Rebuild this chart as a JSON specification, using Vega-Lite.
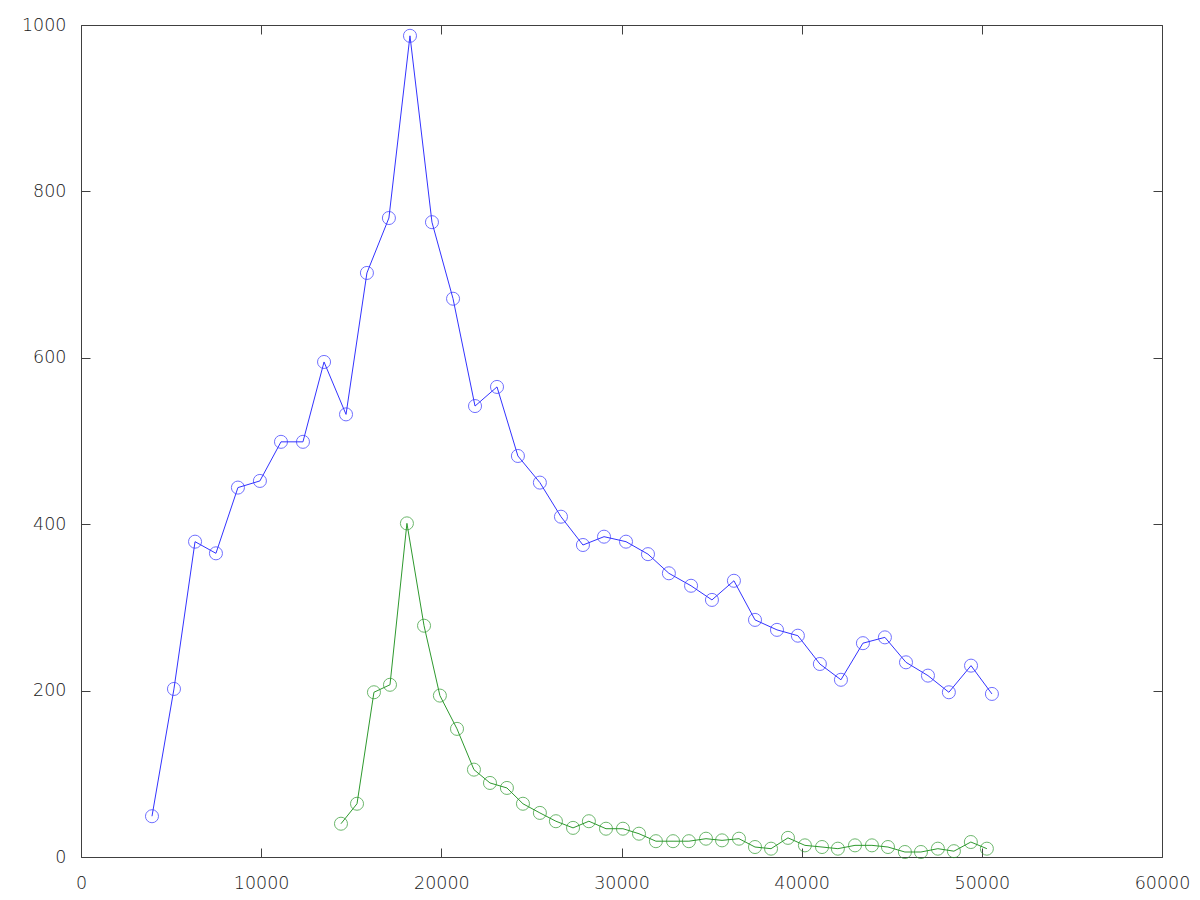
{
  "$schema": "https://vega.github.io/schema/vega-lite/v6.json",
  "width": 1081,
  "height": 832,
  "autosize": {"type": "none"},
  "padding": {"left": 81, "top": 25, "right": 38, "bottom": 43},
  "background": "white",
  "config": {
    "view": {"stroke": null},
    "axis": {
      "grid": false,
      "domainColor": "#404040",
      "domainWidth": 1,
      "tickColor": "#404040",
      "tickWidth": 1,
      "tickSize": -9,
      "labelFont": "DejaVu Sans",
      "labelFontWeight": 200,
      "labelFontSize": 17.5,
      "labelColor": "#1a1a1a",
      "format": "d",
      "title": null
    }
  },
  "datasets": {
    "pts": [
      {"s": "a", "x": 3940, "y": 49},
      {"s": "a", "x": 5160, "y": 202},
      {"s": "a", "x": 6330, "y": 379},
      {"s": "a", "x": 7490, "y": 365},
      {"s": "a", "x": 8710, "y": 444},
      {"s": "a", "x": 9930, "y": 452},
      {"s": "a", "x": 11100, "y": 499},
      {"s": "a", "x": 12320, "y": 499},
      {"s": "a", "x": 13490, "y": 595},
      {"s": "a", "x": 14710, "y": 532},
      {"s": "a", "x": 15870, "y": 702},
      {"s": "a", "x": 17090, "y": 768},
      {"s": "a", "x": 18260, "y": 987},
      {"s": "a", "x": 19480, "y": 763},
      {"s": "a", "x": 20650, "y": 671},
      {"s": "a", "x": 21870, "y": 542},
      {"s": "a", "x": 23090, "y": 565},
      {"s": "a", "x": 24250, "y": 482},
      {"s": "a", "x": 25470, "y": 450},
      {"s": "a", "x": 26640, "y": 409},
      {"s": "a", "x": 27860, "y": 375},
      {"s": "a", "x": 29030, "y": 385},
      {"s": "a", "x": 30250, "y": 379},
      {"s": "a", "x": 31470, "y": 364},
      {"s": "a", "x": 32630, "y": 341},
      {"s": "a", "x": 33860, "y": 326},
      {"s": "a", "x": 35020, "y": 309},
      {"s": "a", "x": 36240, "y": 332},
      {"s": "a", "x": 37410, "y": 285},
      {"s": "a", "x": 38630, "y": 273},
      {"s": "a", "x": 39790, "y": 266},
      {"s": "a", "x": 41010, "y": 232},
      {"s": "a", "x": 42180, "y": 213},
      {"s": "a", "x": 43400, "y": 257},
      {"s": "a", "x": 44620, "y": 264},
      {"s": "a", "x": 45790, "y": 234},
      {"s": "a", "x": 47010, "y": 218},
      {"s": "a", "x": 48170, "y": 198},
      {"s": "a", "x": 49400, "y": 230},
      {"s": "a", "x": 50560, "y": 196},
      {"s": "b", "x": 14430, "y": 40},
      {"s": "b", "x": 15320, "y": 64},
      {"s": "b", "x": 16260, "y": 198},
      {"s": "b", "x": 17150, "y": 207},
      {"s": "b", "x": 18090, "y": 401},
      {"s": "b", "x": 19040, "y": 278},
      {"s": "b", "x": 19920, "y": 194},
      {"s": "b", "x": 20870, "y": 154},
      {"s": "b", "x": 21810, "y": 105},
      {"s": "b", "x": 22700, "y": 89},
      {"s": "b", "x": 23640, "y": 83},
      {"s": "b", "x": 24530, "y": 64},
      {"s": "b", "x": 25470, "y": 53},
      {"s": "b", "x": 26360, "y": 43},
      {"s": "b", "x": 27310, "y": 35},
      {"s": "b", "x": 28190, "y": 43},
      {"s": "b", "x": 29140, "y": 34},
      {"s": "b", "x": 30080, "y": 34},
      {"s": "b", "x": 30970, "y": 28},
      {"s": "b", "x": 31910, "y": 19},
      {"s": "b", "x": 32860, "y": 19},
      {"s": "b", "x": 33740, "y": 19},
      {"s": "b", "x": 34690, "y": 22},
      {"s": "b", "x": 35580, "y": 20},
      {"s": "b", "x": 36520, "y": 22},
      {"s": "b", "x": 37410, "y": 12},
      {"s": "b", "x": 38300, "y": 10},
      {"s": "b", "x": 39240, "y": 23},
      {"s": "b", "x": 40180, "y": 14},
      {"s": "b", "x": 41130, "y": 12},
      {"s": "b", "x": 42010, "y": 10},
      {"s": "b", "x": 42960, "y": 14},
      {"s": "b", "x": 43900, "y": 14},
      {"s": "b", "x": 44790, "y": 12},
      {"s": "b", "x": 45730, "y": 6},
      {"s": "b", "x": 46620, "y": 6},
      {"s": "b", "x": 47560, "y": 10},
      {"s": "b", "x": 48450, "y": 7},
      {"s": "b", "x": 49390, "y": 18},
      {"s": "b", "x": 50280, "y": 10}
    ]
  },
  "data": {"name": "pts"},
  "layer": [
    {
      "mark": {"type": "line", "strokeWidth": 1, "clip": true},
      "encoding": {
        "x": {"field": "x", "type": "quantitative", "scale": {"domain": [0, 60000], "nice": false, "zero": false},
              "axis": {"orient": "bottom", "values": [0, 10000, 20000, 30000, 40000, 50000, 60000], "labelPadding": 26, "labelFlush": false}},
        "y": {"field": "y", "type": "quantitative", "scale": {"domain": [0, 1000], "nice": false, "zero": false},
              "axis": {"orient": "left", "values": [0, 200, 400, 600, 800, 1000], "labelPadding": 24, "labelFlush": false}},
        "color": {"field": "s", "type": "nominal", "scale": {"domain": ["a", "b"], "range": ["#3333ff", "#2e992e"]}, "legend": null}
      }
    },
    {
      "mark": {"type": "point", "shape": "circle", "filled": false, "size": 170, "strokeWidth": 1},
      "encoding": {
        "x": {"field": "x", "type": "quantitative",
              "axis": {"orient": "top", "values": [0, 10000, 20000, 30000, 40000, 50000, 60000], "labels": false}},
        "y": {"field": "y", "type": "quantitative",
              "axis": {"orient": "right", "values": [0, 200, 400, 600, 800, 1000], "labels": false}},
        "color": {"field": "s", "type": "nominal", "legend": null}
      }
    }
  ],
  "resolve": {"axis": {"x": "independent", "y": "independent"}}
}
